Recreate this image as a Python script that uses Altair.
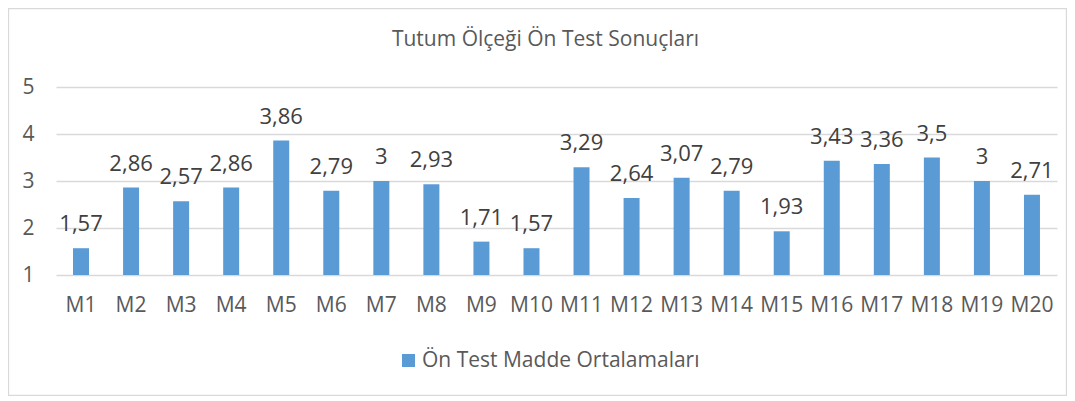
import altair as alt
import pandas as pd

items = ["M1", "M2", "M3", "M4", "M5", "M6", "M7", "M8", "M9", "M10",
         "M11", "M12", "M13", "M14", "M15", "M16", "M17", "M18", "M19", "M20"]
values = [1.57, 2.86, 2.57, 2.86, 3.86, 2.79, 3, 2.93, 1.71, 1.57,
          3.29, 2.64, 3.07, 2.79, 1.93, 3.43, 3.36, 3.5, 3, 2.71]
series = "Ön Test Madde Ortalamaları"
title = "Tutum Ölçeği Ön Test Sonuçları"
y_ticks = [1, 2, 3, 4, 5]

df = pd.DataFrame({"item": items, "value": values, "series": series})

FONT = "Open Sans"
BLUE = "#5B9BD5"
PW, PH = 1001, 188

base = alt.Chart(df).encode(
    x=alt.X("item:N", sort=items,
            scale=alt.Scale(paddingInner=0, paddingOuter=0),
            axis=alt.Axis(title=None, labelAngle=0, domain=False, ticks=False,
                          labelPadding=19, labelFontSize=21, labelColor="#595959",
                          labelFont=FONT, grid=False))
)

bars = base.mark_bar(size=16).encode(
    y=alt.Y("value:Q", scale=alt.Scale(domain=[1, 5], zero=False, nice=False),
            axis=alt.Axis(title=None, values=y_ticks, domain=False, ticks=False,
                          labelPadding=22, labelFontSize=21, labelColor="#595959",
                          labelFont=FONT, gridColor="#d9d9d9", gridWidth=1.3,
                          labelAlign="right")),
    y2=alt.datum(1),
    color=alt.Color("series:N", scale=alt.Scale(range=[BLUE]),
                    legend=alt.Legend(title=None, orient="none", legendX=342,
                                      legendY=263, symbolType="square",
                                      symbolSize=169, symbolStrokeWidth=0,
                                      labelFontSize=21, labelColor="#595959",
                                      labelFont=FONT, labelLimit=400,
                                      labelOffset=3, symbolOffset=0)),
)

labels = base.mark_text(baseline="bottom", dy=-12, fontSize=22, font=FONT,
                        color="#404040").transform_calculate(
    lab="replace(toString(datum.value), '.', ',')"
).encode(
    y=alt.Y("value:Q"),
    text="lab:N",
)

border = alt.Chart(pd.DataFrame({"k": [0]})).mark_rect(
    fill=None, stroke="#d9d9d9", strokeWidth=1.3, clip=False
).encode(
    x=alt.value(-47.5), x2=alt.value(PW + 10 - 0.5),
    y=alt.value(-78.5), y2=alt.value(PH + 121 - 0.5),
)

chart = alt.layer(border, bars, labels).properties(
    width=PW, height=PH,
    title=alt.TitleParams(title, anchor="middle", fontSize=21, font=FONT,
                          fontWeight="normal", color="#595959", offset=-42, dx=-11),
    autosize=alt.AutoSizeParams(type="none"),
    padding={"left": 48, "top": 79, "right": 10, "bottom": 121},
).configure_view(stroke=None)

chart.save("out.html", embed_options={"renderer": "svg", "actions": False})
